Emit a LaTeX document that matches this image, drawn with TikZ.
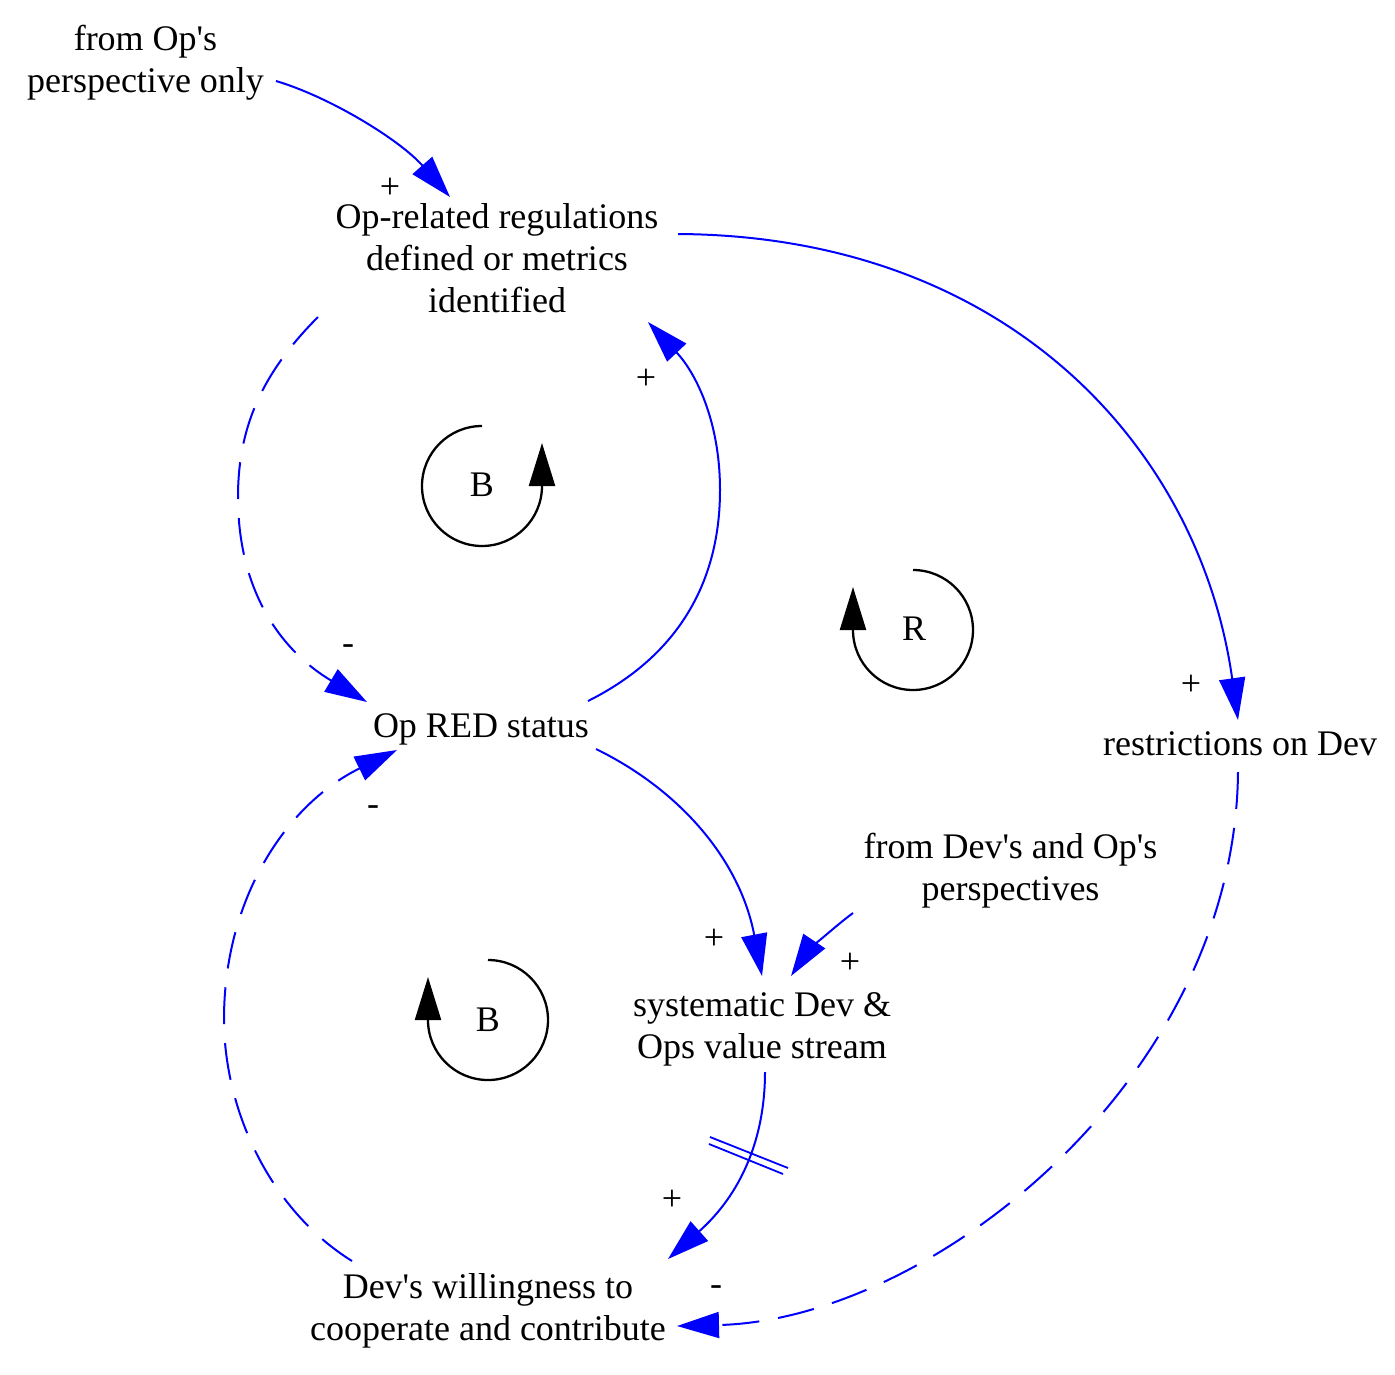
\documentclass[tikz,border=0pt]{standalone}
\usepackage{fontspec}
\setmainfont{Liberation Serif}
\usetikzlibrary{arrows.meta,calc}
\begin{document}
\begin{tikzpicture}[x=1pt,y=1pt,
  lbl/.style={inner sep=0pt, align=center, font=\fontsize{36}{42}\selectfont},
  sgn/.style={inner sep=0pt, font=\fontsize{36}{42}\selectfont},
  link/.style={draw=blue, line width=2pt, -{Triangle[length=42pt,width=26pt]}},
  neglink/.style={link, dash pattern=on 37pt off 19pt},
  loopmark/.style={draw=black, line width=2.3pt, -{Triangle[length=43pt,width=26pt]}},
  hashmark/.style={draw=blue, line width=1.8pt},
]
\fill[white] (0,0) rectangle (1395,-1374);
\useasboundingbox (0,0) rectangle (1395,-1374);

% variables
\node[lbl] (fromOp)  at (145.5,-63)  {from Op\textquotesingle s\\perspective only};
\node[lbl] (reg)     at (497,-258)   {Op-related regulations\\defined or metrics\\identified};
\node[lbl] (red)     at (481,-729)   {Op RED status};
\node[lbl] (restr)   at (1240,-744)  {restrictions on Dev};
\node[lbl] (fromDev) at (1010.5,-870.5) {from Dev\textquotesingle s and Op\textquotesingle s\\perspectives};
\node[lbl] (sys)     at (762,-1029)  {systematic Dev \&\\Ops value stream};
\node[lbl] (will)    at (488,-1311)  {Dev\textquotesingle s willingness to\\cooperate and contribute};

% loop markers
\node[sgn] (b1) at (482,-485) {B};
\draw[loopmark] (482,-426) arc[start angle=90,end angle=360,radius=60pt] -- ++(0,43);
\node[sgn] (r1) at (914,-629) {R};
\draw[loopmark] (913,-570) arc[start angle=90,end angle=-180,radius=60pt] -- ++(0,43);
\node[sgn] (b2) at (488,-1020) {B};
\draw[loopmark] (488,-960) arc[start angle=90,end angle=-180,radius=60pt] -- ++(0,43);

% links
\draw[link] ($(fromOp)+(130.5,-18)$) .. controls (330,-97) and (400,-140) .. ($(reg)+(-47,61)$);
\draw[link] ($(reg)+(181,24)$) .. controls (1010,-236) and (1200,-450) .. ($(restr)+(-2,24)$);
\draw[neglink] ($(reg)+(-179,-59)$) .. controls (260,-375) and (238,-430) .. (238,-497)
   .. controls (238,-590) and (280,-650) .. ($(red)+(-114,27)$);
\draw[link] ($(red)+(107,28)$) .. controls (680,-655) and (720,-580) .. (720,-490)
   .. controls (720,-420) and (695,-372) .. ($(reg)+(151,-64)$);
\draw[link] ($(red)+(115,-20)$) .. controls (680,-790) and (740,-860) .. ($(sys)+(0,53)$);
\draw[link] ($(fromDev)+(-157.5,-42.5)$) .. controls (830,-930) and (805,-955) .. ($(sys)+(29,53)$);
\draw[link] ($(sys)+(3,-43)$) .. controls (765,-1140) and (740,-1195) .. ($(will)+(180,52)$);
\draw[hashmark] (710,-1137) -- (788,-1168);
\draw[hashmark] (709,-1144) -- (783,-1174);
\draw[neglink] ($(restr)+(-2,-28)$) .. controls (1235,-1080) and (930,-1320) .. ($(will)+(189,-15)$);
\draw[neglink] ($(will)+(-136,50)$) .. controls (270,-1210) and (224,-1110) .. (224,-1019)
   .. controls (224,-900) and (285,-805) .. ($(red)+(-84,-21)$);

% polarity signs
\node[sgn] (s1) at (390,-188) {+};
\node[sgn] (s2) at (646,-379) {+};
\node[sgn] (s3) at (348,-650) {-};
\node[sgn] (s4) at (1191,-685) {+};
\node[sgn] (s5) at (373,-811) {-};
\node[sgn] (s6) at (714,-939) {+};
\node[sgn] (s7) at (850,-963) {+};
\node[sgn] (s8) at (672,-1200) {+};
\node[sgn] (s9) at (716,-1291) {-};
\end{tikzpicture}
\end{document}
